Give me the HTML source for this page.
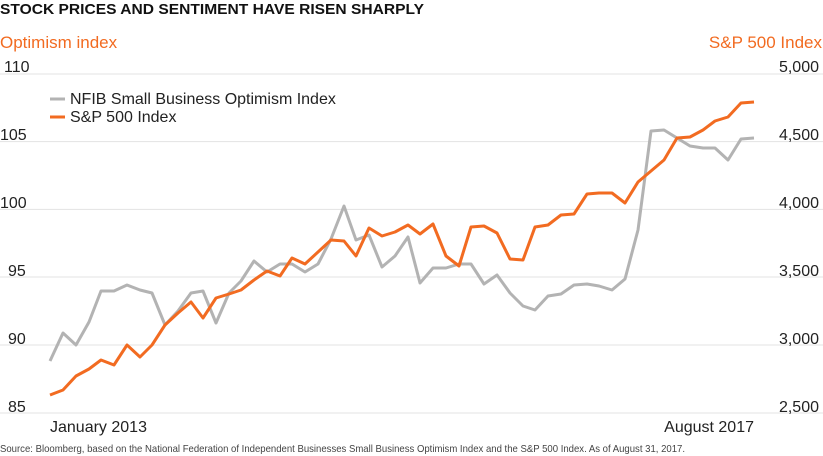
<!DOCTYPE html>
<html><head><meta charset="utf-8"><style>
html,body{margin:0;padding:0;background:#fff;}
svg{display:block;font-family:"Liberation Sans",sans-serif;}
</style></head><body>
<svg width="823" height="456" viewBox="0 0 823 456" xmlns="http://www.w3.org/2000/svg">
<text x="0" y="14" font-size="15" font-weight="bold" fill="#111" textLength="424" lengthAdjust="spacingAndGlyphs">STOCK PRICES AND SENTIMENT HAVE RISEN SHARPLY</text>
<text x="0" y="48" font-size="17" fill="#f26b21">Optimism index</text>
<text x="822" y="48" font-size="17" fill="#f26b21" text-anchor="end">S&amp;P 500 Index</text>
<g stroke="#e3e3e3" stroke-width="1">
<line x1="0" x2="823" y1="74" y2="74"/><line x1="0" x2="823" y1="141.6" y2="141.6"/>
<line x1="0" x2="823" y1="209.4" y2="209.4"/><line x1="0" x2="823" y1="277" y2="277"/>
<line x1="0" x2="823" y1="345" y2="345"/><line x1="0" x2="823" y1="413" y2="413"/>
</g>
<g font-size="16" fill="#222">
<text x="4" y="72">110</text><text x="0" y="140">105</text><text x="0" y="208">100</text>
<text x="8" y="276">95</text><text x="8" y="344">90</text><text x="8" y="412">85</text>
</g>
<g font-size="16" fill="#222" text-anchor="end">
<text x="819" y="72">5,000</text><text x="819" y="140">4,500</text><text x="819" y="208">4,000</text>
<text x="819" y="276">3,500</text><text x="819" y="344">3,000</text><text x="819" y="412">2,500</text>
</g>
<text x="50" y="432" font-size="16" fill="#222">January 2013</text>
<text x="754" y="432" font-size="16" fill="#222" text-anchor="end">August 2017</text>
<text x="0" y="452" font-size="10.5" fill="#444" textLength="685" lengthAdjust="spacingAndGlyphs">Source: Bloomberg, based on the National Federation of Independent Businesses Small Business Optimism Index and the S&amp;P 500 Index. As of August 31, 2017.</text>
<line x1="50" x2="65" y1="99" y2="99" stroke="#b3b3b3" stroke-width="3"/>
<line x1="50" x2="65" y1="117" y2="117" stroke="#f26b21" stroke-width="3"/>
<text x="70" y="104" font-size="16" fill="#222">NFIB Small Business Optimism Index</text>
<text x="70" y="122" font-size="16" fill="#222">S&amp;P 500 Index</text>
<polyline fill="none" stroke="#b3b3b3" stroke-width="3" stroke-linejoin="round" points="50,361 63,333 76,345 89,322 101,291 114,291 127,285 140,290 152,293 165,325 178,311 191,293 203,291 216,323 229,293 241,281 254,261 267,272 280,264 292,264 305,272 318,264 331,239 344,206 356,240 369,235 382,267 395,256 408,237 420,283 433,268 446,268 459,264 471,264 484,284 497,275 510,293 523,306 535,310 548,296 561,294 574,285 587,284 599,286 612,290 625,279 638,230 651,131 664,130 677,138 690,146 703,148 715,148 728,160 741,139 754,138"/>
<polyline fill="none" stroke="#f26b21" stroke-width="3" stroke-linejoin="round" points="50,395 63,390 76,376 89,369 101,360 114,365 127,345 140,357 152,345 165,325 178,313 191,302 203,318 216,298 229,294 241,290 254,280 267,271 280,276 292,258 305,264 318,252 331,240 344,241 356,256 369,228 382,236 395,232 408,225 420,234 433,224 446,256 459,266 471,227 484,226 497,233 510,259 523,260 535,227 548,225 561,215 574,214 587,194 599,193 612,193 625,203 638,182 651,171 664,160 677,138 690,137 703,130 715,121 728,117 741,103 754,102"/>
</svg>
</body></html>
